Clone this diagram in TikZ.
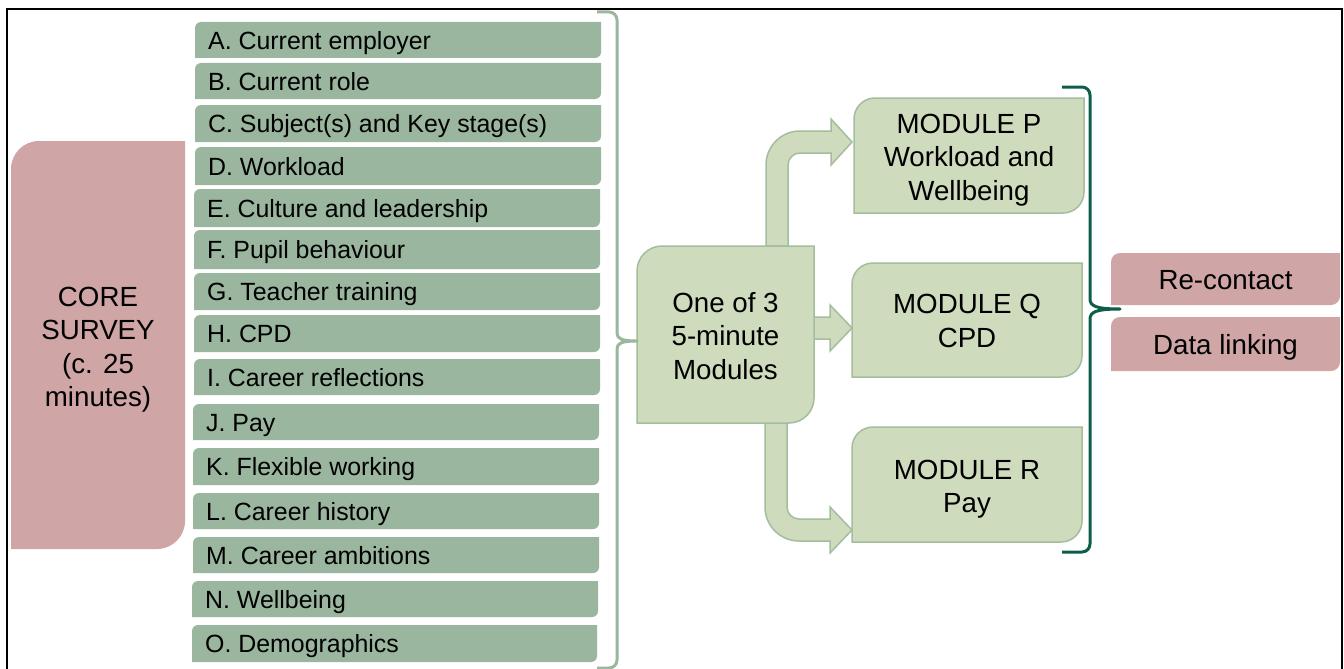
\documentclass[tikz,border=0pt]{standalone}
\usepackage{fontspec}
\setmainfont{Liberation Sans}
\usetikzlibrary{calc}
\pgfdeclarelayer{bg}
\pgfsetlayers{bg,main}
\definecolor{corepink}{RGB}{208,165,166}
\definecolor{sage}{RGB}{154,182,159}
\definecolor{modfill}{RGB}{207,219,189}
\definecolor{modline}{RGB}{163,189,158}
\definecolor{bracelight}{RGB}{155,184,158}
\definecolor{bracedark}{RGB}{12,94,74}
\newcommand\rdshape[3]{%
  \path[#3] (#1.south west) -- ($(#1.north west)+(0,#2)$)
    arc[start angle=180,end angle=270,radius=#2] -- (#1.north east)
    -- ($(#1.south east)-(0,#2)$)
    arc[start angle=0,end angle=90,radius=#2] -- cycle;}
\begin{document}
\begin{tikzpicture}[x=1pt,y=-1pt,
  boxframe/.style={inner sep=0pt, outer sep=0pt, anchor=north west},
  itemtext/.style={anchor=base west, inner sep=0pt, font=\fontsize{24.9}{30}\selectfont},
  bigtext/.style={align=center, inner sep=0pt, font=\fontsize{27.7}{33.5}\selectfont},
  modshape/.style={fill=modfill, draw=modline, line width=1.5pt},
  arrowshape/.style={fill=modfill, draw=modline, line width=1.5pt, line join=miter},
  ]
\useasboundingbox (0,0) rectangle (1344,669);
\begin{pgfonlayer}{bg}
  \fill[white] (0,0) rectangle (1344,669);
\end{pgfonlayer}

% core survey
\node[boxframe, minimum width=174pt, minimum height=408pt] (core) at (11,141) {};
\node[bigtext] (core-t) at ($(core.center)+(0,4.5)$) {CORE\\SURVEY\\(c. 25\\minutes)};

% items
\foreach \n/\l/\t/\r/\b/\txt in {
  A/195/22/601/58/{A. Current employer},
  B/195/63/601/99/{B. Current role},
  C/195/105/601/142/{C. Subject(s) and Key stage(s)},
  D/195/147/601/185/{D. Workload},
  E/194/189/600/227/{E. Culture and leadership},
  F/194/230/600/269/{F. Pupil behaviour},
  G/194/273/600/310/{G. Teacher training},
  H/194/315/600/352/{H. CPD},
  I/194/359/600/395/{I. Career reflections},
  J/193/404/599/440/{J. Pay},
  K/193/448/599/485/{K. Flexible working},
  L/193/493/599/529/{L. Career history},
  M/193/537/599/573/{M. Career ambitions},
  N/192/581/598/617/{N. Wellbeing},
  O/192/625/597/662/{O. Demographics}} {
  \pgfmathsetmacro\w{\r-\l}
  \pgfmathsetmacro\h{\b-\t}
  \node[boxframe, minimum width=\w pt, minimum height=\h pt] (\n) at (\l,\t) {};
  \node[itemtext] (\n-t) at ($(\n.west)+(13,9)$) {\txt};
  \begin{pgfonlayer}{bg}
    \rdshape{\n}{6}{fill=sage}
  \end{pgfonlayer}
}

% modules
\node[boxframe, minimum width=177pt, minimum height=177pt] (M0) at (637,246) {};
\node[bigtext] (M0-t) at ($(M0.center)+(0,1.5)$) {One of 3\\5-minute\\Modules};
\node[boxframe, minimum width=230pt, minimum height=115pt] (P) at (854,98) {};
\node[bigtext] (P-t) at ($(P.center)+(0,4.5)$) {MODULE P\\Workload and\\Wellbeing};
\node[boxframe, minimum width=230pt, minimum height=114pt] (Q) at (852,263) {};
\node[bigtext] (Q-t) at ($(Q.center)+(0,1)$) {MODULE Q\\CPD};
\node[boxframe, minimum width=230pt, minimum height=115pt] (R) at (852,427) {};
\node[bigtext] (R-t) at ($(R.center)+(0,4.5)$) {MODULE R\\Pay};

% re-contact / data linking
\node[boxframe, minimum width=229pt, minimum height=52pt] (RC) at (1111,253) {};
\node[bigtext] (RC-t) at ($(RC.center)+(0,1)$) {Re-contact};
\node[boxframe, minimum width=229pt, minimum height=54pt] (DL) at (1111,317) {};
\node[bigtext] (DL-t) at ($(DL.center)+(0,3)$) {Data linking};

\begin{pgfonlayer}{bg}
  \rdshape{core}{28}{fill=corepink}
  % arrows
  \path[arrowshape] (766,246) -- (766,165) arc[start angle=180,end angle=270,radius=34]
     -- (831,131) -- (831,119) -- (852,142) -- (831,165) -- (831,153) -- (800,153)
     arc[start angle=270,end angle=180,radius=12] -- (788,246) -- cycle;
  \path[arrowshape] (814,317) -- (830,317) -- (830,305) -- (852,328) -- (830,351) -- (830,339) -- (814,339) -- cycle;
  \path[arrowshape] (765,423) -- (765,507) arc[start angle=180,end angle=90,radius=34]
     -- (830,541) -- (830,553) -- (852,530) -- (830,507) -- (830,519) -- (799,519)
     arc[start angle=90,end angle=180,radius=12] -- (787,423) -- cycle;
  \rdshape{M0}{25}{modshape}
  \rdshape{P}{21}{modshape}
  \rdshape{Q}{21}{modshape}
  \rdshape{R}{21}{modshape}
  \rdshape{RC}{9}{fill=corepink}
  \rdshape{DL}{9}{fill=corepink}
\end{pgfonlayer}

% braces
\coordinate (lbtip) at (637,341);
\draw[bracelight, line width=3pt, line join=round] (597,12) -- (609,12)
   arc[start angle=270,end angle=360,radius=8] -- (617,333)
   .. controls (617,339) and (622,341) .. (lbtip)
   .. controls (622,341) and (617,343) .. (617,349) -- (617,660)
   arc[start angle=0,end angle=90,radius=8] -- (597,668);
\coordinate (rbtip) at (1120,309);
\draw[bracedark, line width=3pt, line join=round] (1062,87) -- (1082,87)
   arc[start angle=270,end angle=360,radius=8] -- (1090,299)
   .. controls (1090,306) and (1096,309) .. (rbtip)
   .. controls (1096,309) and (1090,312) .. (1090,319) -- (1090,544)
   arc[start angle=0,end angle=90,radius=8] -- (1062,552);

% frame
\draw[line width=2.2pt] (7,675) -- (7,9) -- (1342,9) -- (1342,675);
\end{tikzpicture}
\end{document}
